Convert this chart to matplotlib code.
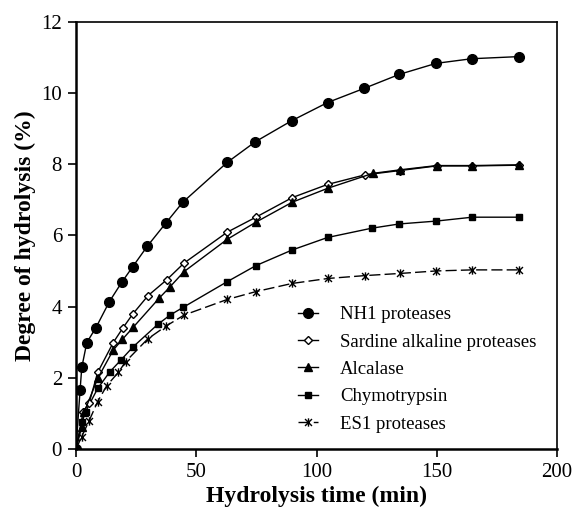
import matplotlib
matplotlib.use("Agg")
import matplotlib.pyplot as plt
from matplotlib.path import Path

# ---- data ----
nh1_t = [0, 1.7, 2.4, 4.5, 8.3, 13.9, 19.0, 23.6, 29.7, 37.3, 44.4, 62.9, 74.6, 89.7, 104.6, 119.9, 134.4, 149.7, 164.5, 184.2]
nh1_y = [0, 1.66, 2.29, 2.99, 3.41, 4.14, 4.68, 5.12, 5.70, 6.34, 6.93, 8.05, 8.63, 9.22, 9.73, 10.13, 10.52, 10.83, 10.96, 11.02]

sard_t = [0, 3.0, 5.5, 9.0, 15.5, 19.4, 23.6, 30.0, 37.7, 44.9, 62.9, 74.8, 89.9, 104.6, 120.2, 134.7, 150.0, 164.8, 184.2]
sard_y = [0, 1.05, 1.30, 2.15, 2.99, 3.39, 3.79, 4.31, 4.75, 5.22, 6.09, 6.51, 7.06, 7.43, 7.70, 7.82, 7.95, 7.95, 7.97]

alc_t = [0, 2.4, 3.5, 9.0, 15.5, 19.3, 23.8, 34.5, 38.9, 44.9, 62.9, 74.8, 89.9, 104.6, 123.4, 134.7, 150.0, 164.8, 184.2]
alc_y = [0, 0.63, 1.05, 1.98, 2.78, 3.08, 3.42, 4.23, 4.54, 4.98, 5.89, 6.37, 6.93, 7.32, 7.74, 7.84, 7.96, 7.96, 7.98]

chy_t = [0, 2.4, 4.0, 9.0, 14.1, 18.7, 23.6, 34.0, 39.1, 44.6, 62.9, 74.8, 89.9, 104.6, 122.9, 134.4, 149.7, 164.8, 184.0]
chy_y = [0, 0.75, 1.05, 1.70, 2.17, 2.50, 2.86, 3.50, 3.76, 3.98, 4.70, 5.15, 5.59, 5.94, 6.20, 6.32, 6.40, 6.51, 6.51]

es1_t = [0, 2.4, 5.5, 9.0, 12.8, 17.6, 20.6, 29.8, 37.4, 44.9, 62.9, 74.8, 89.9, 104.9, 120.2, 134.7, 149.7, 164.5, 184.0]
es1_y = [0, 0.35, 0.80, 1.33, 1.78, 2.15, 2.45, 3.09, 3.45, 3.76, 4.20, 4.42, 4.65, 4.79, 4.87, 4.93, 5.00, 5.03, 5.03]

labels = ["NH1 proteases", "Sardine alkaline proteases", "Alcalase", "Chymotrypsin", "ES1 proteases"]
x_ticks = [0, 50, 100, 150, 200]
y_ticks = [0, 2, 4, 6, 8, 10, 12]

plt.rcParams['font.family'] = ['Liberation Serif', 'DejaVu Serif']

# Excel-like asterisk marker: x with vertical bar
ast = Path([(-1, -1), (1, 1), (-1, 1), (1, -1), (0, -1.2), (0, 1.2)],
           [Path.MOVETO, Path.LINETO, Path.MOVETO, Path.LINETO, Path.MOVETO, Path.LINETO])

fig = plt.figure(figsize=(5.77, 5.09), dpi=100)
ax = fig.add_axes([76/577, 1-449/509, (557-76)/577, (449-21.7)/509])

lw = 1.0
ax.plot(nh1_t, nh1_y, color='black', lw=lw, marker='o', ms=7, mfc='black', mec='black', label=labels[0], zorder=5)
ax.plot(sard_t, sard_y, color='black', lw=lw, marker='D', ms=4.5, mfc='white', mec='black', mew=1.0, label=labels[1], zorder=4)
ax.plot(alc_t, alc_y, color='black', lw=lw, marker='^', ms=6, mfc='black', mec='black', label=labels[2], zorder=6)
ax.plot(chy_t, chy_y, color='black', lw=lw, marker='s', ms=5, mfc='black', mec='black', label=labels[3], zorder=3)
ax.plot(es1_t, es1_y, color='black', lw=lw, ls=(0, (8, 3)), marker=ast, ms=6, mfc='none', mec='black', mew=1.0,
        label=labels[4], zorder=2)

ax.set_xlim(0, 200)
ax.set_ylim(0, 12)
ax.set_xticks(x_ticks)
ax.set_yticks(y_ticks)
ax.tick_params(direction='out', length=6, width=1.2, labelsize=15, pad=4)
for s in ax.spines.values():
    s.set_linewidth(1.2)
ax.spines['left'].set_linewidth(1.8)
ax.spines['bottom'].set_linewidth(1.8)

ax.set_xlabel("Hydrolysis time (min)", fontsize=17, fontweight='bold', labelpad=3)
ax.set_ylabel("Degree of hydrolysis (%)", fontsize=17, fontweight='bold', labelpad=4)

leg = ax.legend(loc='upper left', bbox_to_anchor=(298/577, 1-306/509), bbox_transform=fig.transFigure,
                frameon=False, fontsize=13.5, handlelength=1.05, handletextpad=1.2, labelspacing=0.55,
                borderpad=0, borderaxespad=0)

fig.savefig("out.png", dpi=100)
